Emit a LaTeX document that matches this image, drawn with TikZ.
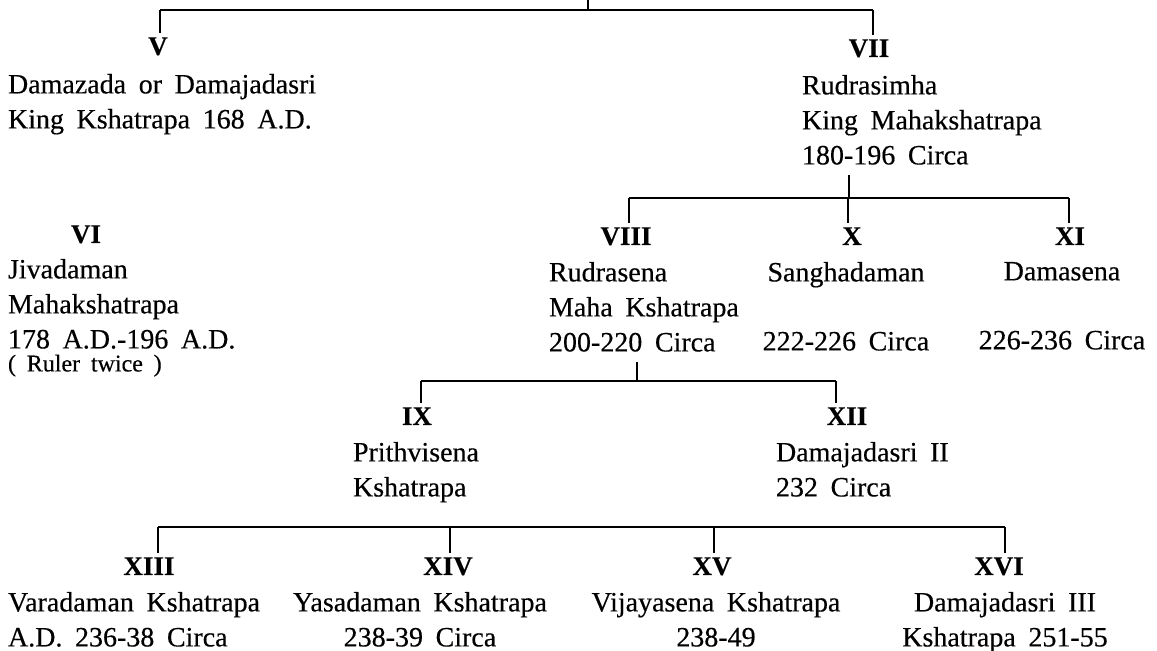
\documentclass[tikz,border=0pt]{standalone}
\usepackage{fontspec}
\setmainfont[WordSpace=1.8,FakeBold=0.4]{Liberation Serif}
\tikzset{
  num/.style={font=\fontsize{13.5}{17.5}\selectfont\bfseries, inner sep=1.5pt, anchor=base},
  who/.style={font=\fontsize{14}{17.5}\selectfont, align=left, inner sep=0pt, anchor=north west},
  whoc/.style={who, align=center, anchor=north},
}
\begin{document}
\begin{tikzpicture}[x=0.5pt,y=-0.5pt,line width=1pt]
\useasboundingbox (0,0) rectangle (1157,651);

% V and VII
\coordinate (top) at (588,0);
\coordinate (jV) at (160,10);
\coordinate (jVII) at (873,10);
\draw (top) -- (top |- jV);
\draw (jV) -- (jVII);
\node[num] (nV) at (158,55) {V};
\node[num] (nVII) at (869,57) {VII};
\draw (jV) -- (jV |- nV.north);
\draw (jVII) -- (jVII |- nVII.north);
\node[who] (tV) at (7,73) {Damazada or Damajadasri\\King Kshatrapa 168 A.D.};
\node[who] (tVII) at (801,74) {Rudrasimha\\King Mahakshatrapa\\180-196 Circa};

% VI
\node[num] (nVI) at (86,243) {VI};
\node[who] (tVI) at (7,258) {Jivadaman\\Mahakshatrapa\\178 A.D.-196 A.D.\\[-6pt]{\fontsize{12}{15}\selectfont( Ruler twice )}};

% VIII, X and XI
\coordinate (dVII) at (849,198);
\coordinate (jVIII) at (629,198);
\coordinate (jX) at (848,198);
\coordinate (jXI) at (1069,198);
\draw[shorten >=4.5pt] (dVII) -- (dVII |- tVII.south);
\draw (jVIII) -- (jXI);
\node[num] (nVIII) at (626,245) {VIII};
\node[num] (nX) at (852,245) {X};
\node[num] (nXI) at (1070,245) {XI};
\draw (jVIII) -- (jVIII |- nVIII.north);
\draw (jX) -- (jX |- nX.north);
\draw (jXI) -- (jXI |- nXI.north);
\node[who] (tVIII) at (548,261) {Rudrasena\\Maha Kshatrapa\\200-220 Circa};
\node[whoc] (tX) at (846,261) {Sanghadaman\\[17pt]222-226 Circa};
\node[whoc] (tXI) at (1062,261) {Damasena\\[17pt]226-236 Circa};

% IX and XII
\coordinate (dVIII) at (637,381);
\coordinate (jIX) at (421,381);
\coordinate (jXII) at (836,381);
\draw[shorten >=4.5pt] (dVIII) -- (dVIII |- tVIII.south);
\draw (jIX) -- (jXII);
\node[num] (nIX) at (417,425) {IX};
\node[num] (nXII) at (847,425) {XII};
\draw (jIX) -- (jIX |- nIX.north);
\draw (jXII) -- (jXII |- nXII.north);
\node[who] (tIX) at (352,441) {Prithvisena\\Kshatrapa};
\node[who] (tXII) at (775,441) {Damajadasri II\\232 Circa};

% XIII to XVI
\coordinate (jXIII) at (158,527);
\coordinate (jXIV) at (450,527);
\coordinate (jXV) at (714,527);
\coordinate (jXVI) at (1005,527);
\draw (jXIII) -- (jXVI);
\node[num] (nXIII) at (149,575) {XIII};
\node[num] (nXIV) at (448,575) {XIV};
\node[num] (nXV) at (712,575) {XV};
\node[num] (nXVI) at (999,575) {XVI};
\draw (jXIII) -- (jXIII |- nXIII.north);
\draw (jXIV) -- (jXIV |- nXIV.north);
\draw (jXV) -- (jXV |- nXV.north);
\draw (jXVI) -- (jXVI |- nXVI.north);
\node[who] (tXIII) at (7,591) {Varadaman Kshatrapa\\A.D. 236-38 Circa};
\node[whoc] (tXIV) at (420,591) {Yasadaman Kshatrapa\\238-39 Circa};
\node[whoc] (tXV) at (716,591) {Vijayasena Kshatrapa\\238-49};
\node[whoc] (tXVI) at (1005,591) {Damajadasri III\\Kshatrapa 251-55};
\end{tikzpicture}
\end{document}
